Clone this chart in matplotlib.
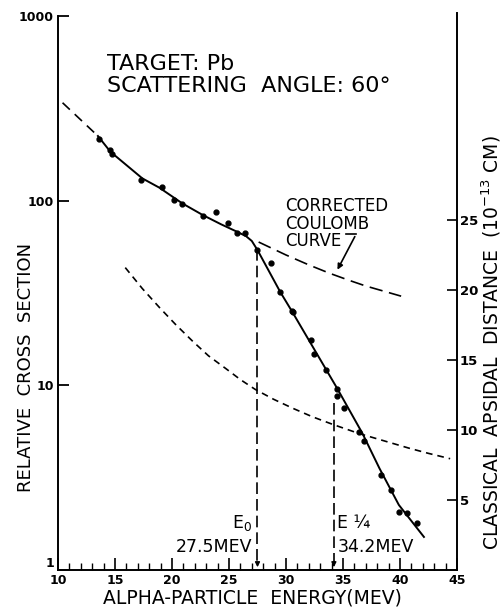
import matplotlib
matplotlib.use('Agg')
import matplotlib.pyplot as plt
from matplotlib.ticker import FixedLocator, MultipleLocator, NullLocator

# measured points (alpha energy in MeV, relative cross section)
pts_e = [13.6, 14.6, 14.7, 17.3, 19.1, 20.2, 20.9, 22.7, 23.9, 24.9, 25.7, 26.4,
         27.5, 28.7, 29.5, 30.5, 30.6, 32.2, 32.5, 33.5, 34.5, 34.5, 35.1, 36.4,
         36.8, 38.3, 39.2, 39.9, 40.6, 41.5]
pts_sig = [217, 188, 179, 130, 118, 101, 95.5, 82.5, 87, 76, 66.5, 66.5,
           54, 46, 32, 25.3, 25, 17.7, 14.7, 12.1, 9.6, 8.75, 7.5, 5.6,
           5.0, 3.27, 2.71, 2.07, 2.03, 1.79]

# hand drawn fit through the points
fit_e = [13.5, 14.6, 17.4, 18.9, 20.9, 22.7, 24.3, 25.7, 26.5, 27.0, 27.5,
         29.5, 30.55, 34.5, 36.7, 38.2, 39.9, 42.1]
fit_sig = [224, 184, 132, 117.5, 96.7, 83.6, 74.5, 67.9, 64.2, 60.5, 54,
           32, 25, 9.6, 5.5, 3.55, 2.25, 1.51]

# dashed extension at low energy
ext_e = [10.4, 13.5]
ext_sig = [339, 224]

# corrected coulomb curve
coul_e = [27.6, 30.0, 32.0, 33.8, 35.5, 37.0, 40.1]
coul_sig = [59.7, 50.8, 44.9, 40.5, 37.1, 34.5, 30.4]

# classical apsidal distance (right axis, 1e-13 cm)
aps_e = [15.9, 17.4, 18.9, 20.3, 21.8, 23.2, 24.7, 26.0, 27.3, 28.9, 30.6,
         32.3, 34.1, 36.4, 38.5, 40.8, 42.5, 44.4]
aps_d = [21.6, 20.1, 18.75, 17.55, 16.35, 15.3, 14.4, 13.6, 12.9, 12.2, 11.55,
         10.95, 10.4, 9.75, 9.25, 8.7, 8.33, 7.95]

e0 = 27.5
e14 = 34.2

fig = plt.figure(figsize=(5.02, 6.08), dpi=100)
ax = fig.add_axes([58/502, 1 - 570/608, 399/502, 554/608])

ax.plot(ext_e, ext_sig, 'k', lw=1.2, dashes=(6, 4))
ax.plot(fit_e, fit_sig, 'k', lw=1.4)
ax.plot(coul_e, coul_sig, 'k', lw=1.2, dashes=(8, 4))
ax.plot(pts_e, pts_sig, 'ko', ms=3.5)

# vertical markers for E0 and E1/4
ax.plot([e0, e0], [55, 1.08], 'k', lw=1.2, dashes=(7, 3))
ax.plot([e14, e14], [8.0, 1.08], 'k', lw=1.2, dashes=(7, 3))
for xe in (e0, e14):
    ax.annotate('', xy=(xe, 1.0), xytext=(xe, 1.12),
                arrowprops=dict(arrowstyle='-|>', color='k', lw=1, mutation_scale=7))

ax.set_yscale('log')
ax.set_xlim(10, 45)
ax.set_ylim(1, 1000)

ax.spines['top'].set_visible(False)
ax.spines['right'].set_visible(False)
for s in ('left', 'bottom'):
    ax.spines[s].set_linewidth(1.4)

ax.yaxis.set_major_locator(FixedLocator([1, 10, 100, 1000]))
ax.yaxis.set_minor_locator(NullLocator())
ax.set_yticklabels(['1', '10', '100', '1000'], fontsize=9, fontweight='bold')
ax.get_yticklabels()[0].set_verticalalignment('bottom')
ax.tick_params(axis='y', direction='in', length=8, width=1.3, pad=3)

ax.xaxis.set_major_locator(MultipleLocator(5))
ax.xaxis.set_minor_locator(MultipleLocator(1))
ax.tick_params(axis='x', which='major', direction='in', length=9, width=1.2, labelsize=9, pad=3)
ax.tick_params(axis='x', which='minor', direction='in', length=5, width=1.0)
for lab in ax.get_xticklabels():
    lab.set_fontweight('bold')

ax.set_xlabel('ALPHA-PARTICLE  ENERGY(MEV)', fontsize=13.5)
ax.xaxis.set_label_coords(0.487, -0.033)
ax.set_ylabel('RELATIVE  CROSS  SECTION', fontsize=13)
ax.yaxis.set_label_coords(-0.058, 0.366)

ax2 = ax.twinx()
ax2.plot(aps_e, aps_d, 'k', lw=1.2, dashes=(4, 3))
ax2.set_ylim(0, 554/14)
ax2.set_xlim(10, 45)
ax2.spines['top'].set_visible(False)
ax2.spines['left'].set_visible(False)
ax2.spines['bottom'].set_visible(False)
ax2.spines['right'].set_linewidth(1.4)
ax2.spines['right'].set_bounds(0, 557/14)
ax2.yaxis.set_major_locator(FixedLocator([5, 10, 15, 20, 25]))
ax2.tick_params(axis='y', direction='in', length=7, width=1.2, labelsize=9.5, pad=2)
for lab in ax2.get_yticklabels():
    lab.set_fontweight('bold')
ax2.set_ylabel('CLASSICAL  APSIDAL  DISTANCE  (10$^{-13}$ CM)', fontsize=13.5, rotation=90)
ax2.yaxis.set_label_coords(1.057, 0.41)

# text annotations
ax.text(0.123, 0.9025, 'TARGET: Pb', fontsize=16, transform=ax.transAxes, va='baseline')
ax.text(0.123, 0.8628, 'SCATTERING  ANGLE: 60°', fontsize=16, transform=ax.transAxes,
        va='baseline')
ax.text(0.569, (570 - 197)/554, 'CORRECTED\nCOULOMB\nCURVE', fontsize=12,
        transform=ax.transAxes, va='top', linespacing=0.97)
ax.plot([35.3, 36.15], [65.9, 65.9], 'k', lw=1.2)
ax.annotate('', xy=(34.4, 41), xytext=(36.15, 65.9),
            arrowprops=dict(arrowstyle='-|>', color='k', lw=1.2, mutation_scale=8))

ax.text(0.486, (570 - 528)/554, 'E$_0$', fontsize=12.5, ha='right', va='baseline',
        transform=ax.transAxes)
ax.text(0.486, (570 - 552)/554, '27.5MEV', fontsize=12.5, ha='right', va='baseline',
        transform=ax.transAxes)
ax.text(0.70, (570 - 528)/554, 'E ¼', fontsize=12.5, ha='left', va='baseline',
        transform=ax.transAxes)
ax.text(0.70, (570 - 552)/554, '34.2MEV', fontsize=12.5, ha='left', va='baseline',
        transform=ax.transAxes)

fig.savefig('out.png', dpi=100)
